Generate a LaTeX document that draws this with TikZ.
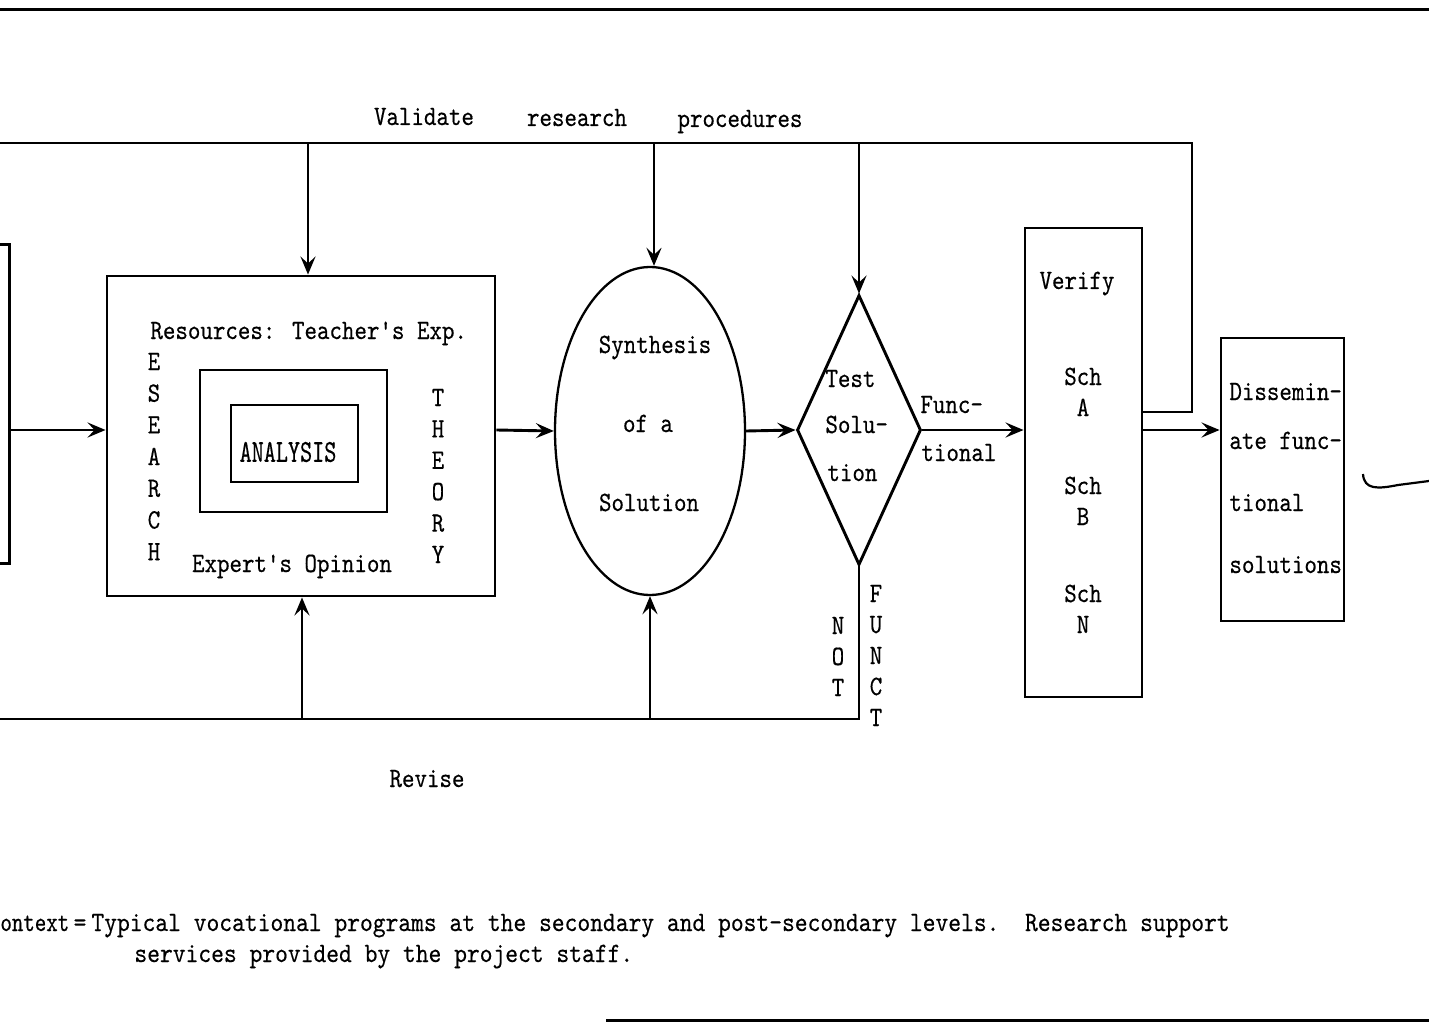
\documentclass[tikz,border=0pt]{standalone}
\usepackage{fontspec}
\usetikzlibrary{shapes.geometric,arrows.meta}
% narrow typewriter faces for all labels
\newfontfamily\tw{lmmono10-regular.otf}[FakeStretch=0.85,FakeBold=0.4]
\newfontfamily\twc{lmmono10-regular.otf}[FakeStretch=0.87,FakeBold=0.3]
\newfontfamily\twk{lmmono10-regular.otf}[FakeStretch=0.78,FakeBold=0.3]
\newfontfamily\twn{lmmono10-regular.otf}[FakeStretch=0.72,FakeBold=0.4]
\begin{document}
\begin{tikzpicture}[x=1pt,y=-1pt,line width=2.9pt,
  lbl/.style={font=\tw\fontsize{28}{31}\selectfont,inner sep=0pt,anchor=base},
  lblw/.style={lbl,anchor=base west},
  capt/.style={font=\twc\fontsize{28}{31}\selectfont,inner sep=0pt,anchor=base west},
  box/.style={draw,inner sep=0pt},
  arr/.style={-{Stealth[length=18pt,width=15pt,inset=7pt]}}]
\useasboundingbox (0,0) rectangle (1429,1024);

% page rules
\draw[line width=3pt] (0,10) -- (1429,10);
\draw[line width=3pt] (606,1020) -- (1429,1020);

% boxes and shapes
\node[box,minimum width=40pt,minimum height=319pt,anchor=north east] (ctx) at (11,243) {};
\node[box,minimum width=388pt,minimum height=320pt] (rbox) at (301,436) {};
\node[box,minimum width=187pt,minimum height=142pt] (mbox) at (293.5,441) {};
\node[box,minimum width=127pt,minimum height=77pt] (abox) at (294.5,443.5) {};
\node[draw,ellipse,inner sep=0pt,minimum width=190pt,minimum height=328pt,line width=2.3pt] (ell) at (650,431) {};
\node[draw,diamond,inner sep=0pt,minimum width=124pt,minimum height=270pt] (dia) at (859,430) {};
\node[box,minimum width=117pt,minimum height=469pt] (ver) at (1083.5,462.5) {};
\node[box,minimum width=123pt,minimum height=283pt] (dis) at (1282.5,479.5) {};

% feedback lines
\coordinate (tl) at (-5,143);
\coordinate (tr) at (1192,143);
\coordinate (bl) at (-5,719);
\draw (ver.east |- 0,412) -| (tr) -- (tl);
\draw[arr] (308,143) -- (rbox.north -| 308,0);
\draw[arr] (654,143) -- (ell.north -| 654,0);
\draw[arr] (dia.north |- tl) -- (dia.north);
\draw (dia.south) -- (dia.south |- bl) -- (bl);
\draw[arr] (302,719) -- (rbox.south -| 302,0);
\draw[arr] (ell.south |- bl) -- (ell.south);

% main flow
\draw[arr] (ctx.east |- 0,430) -- (rbox.west |- 0,430);
\draw[arr] (rbox.east |- 0,430) -- (ell.west);
\draw[arr] (ell.east) -- (dia.west);
\draw[arr] (dia.east) -- (ver.west |- dia.east);
\draw[arr] (ver.east |- 0,430) -- (dis.west |- 0,430);

% hand-drawn continuation mark
\draw[line width=2.2pt] (1363,474) .. controls (1364,490) and (1378,489) .. (1398,485) -- (1429,481);

% labels
\node[lbl] (val) at (424,125) {Validate};
\node[lbl] (rsc) at (577,126) {research};
\node[lbl] (pro) at (740,127) {procedures};
\node[lbl] (rev) at (427,787) {Revise};

\node[lblw] (resl) at (149,339) {Resources: Teacher's Exp.};
\node[lbl] (exp) at (292,572) {Expert's Opinion};
\node[font=\twn\fontsize{32}{34}\selectfont,inner sep=0pt] (ana) at (288,452) {ANALYSIS};
\foreach \c [count=\i] in {E,S,E,A,R,C,H}
  \node[lbl] (res\i) at (154,{370+31.7*(\i-1)}) {\c};
\foreach \c [count=\i] in {T,H,E,O,R,Y}
  \node[lbl] (the\i) at (438,{406+31.4*(\i-1)}) {\c};

\node[lbl] (syn1) at (655,353) {Synthesis};
\node[lbl] (syn2) at (648,432) {of a};
\node[lbl] (syn3) at (649,511) {Solution};

\node[lblw] (ts1) at (824,387) {Test};
\node[lblw] (ts2) at (824,433) {Solu-};
\node[lblw] (ts3) at (826,481) {tion};
\node[lblw] (fn1) at (919,413) {Func-};
\node[lblw] (fn2) at (920,461) {tional};
\foreach \c [count=\i] in {N,O,T}
  \node[lbl] (not\i) at (838,{634+31*(\i-1)}) {\c};
\foreach \c [count=\i] in {F,U,N,C,T}
  \node[lbl] (fun\i) at (876,{602+31*(\i-1)}) {\c};

\node[lbl] (vf) at (1077,289) {Verify};
\node[lbl] (sa1) at (1083,385) {Sch};
\node[lbl] (sa2) at (1083,416) {A};
\node[lbl] (sb1) at (1083,494) {Sch};
\node[lbl] (sb2) at (1083,525) {B};
\node[lbl] (sn1) at (1083,602) {Sch};
\node[lbl] (sn2) at (1083,633) {N};

\node[lblw] (ds1) at (1228,400) {Dissemin-};
\node[lblw] (ds2) at (1228,449) {ate func-};
\node[lblw] (ds3) at (1228,511) {tional};
\node[lblw] (ds4) at (1228,573) {solutions};

% context note
\node[capt,font=\twk\fontsize{28}{31}\selectfont] (cx0) at (-1,931) {ontext};
\node[capt,anchor=base] (cxe) at (80,931) {=};
\node[capt] (cx1) at (90,931) {Typical vocational programs at the secondary and post-secondary levels.\ \ Research support};
\node[capt] (cx2) at (133,962) {services provided by the project staff.};
\end{tikzpicture}
\end{document}
